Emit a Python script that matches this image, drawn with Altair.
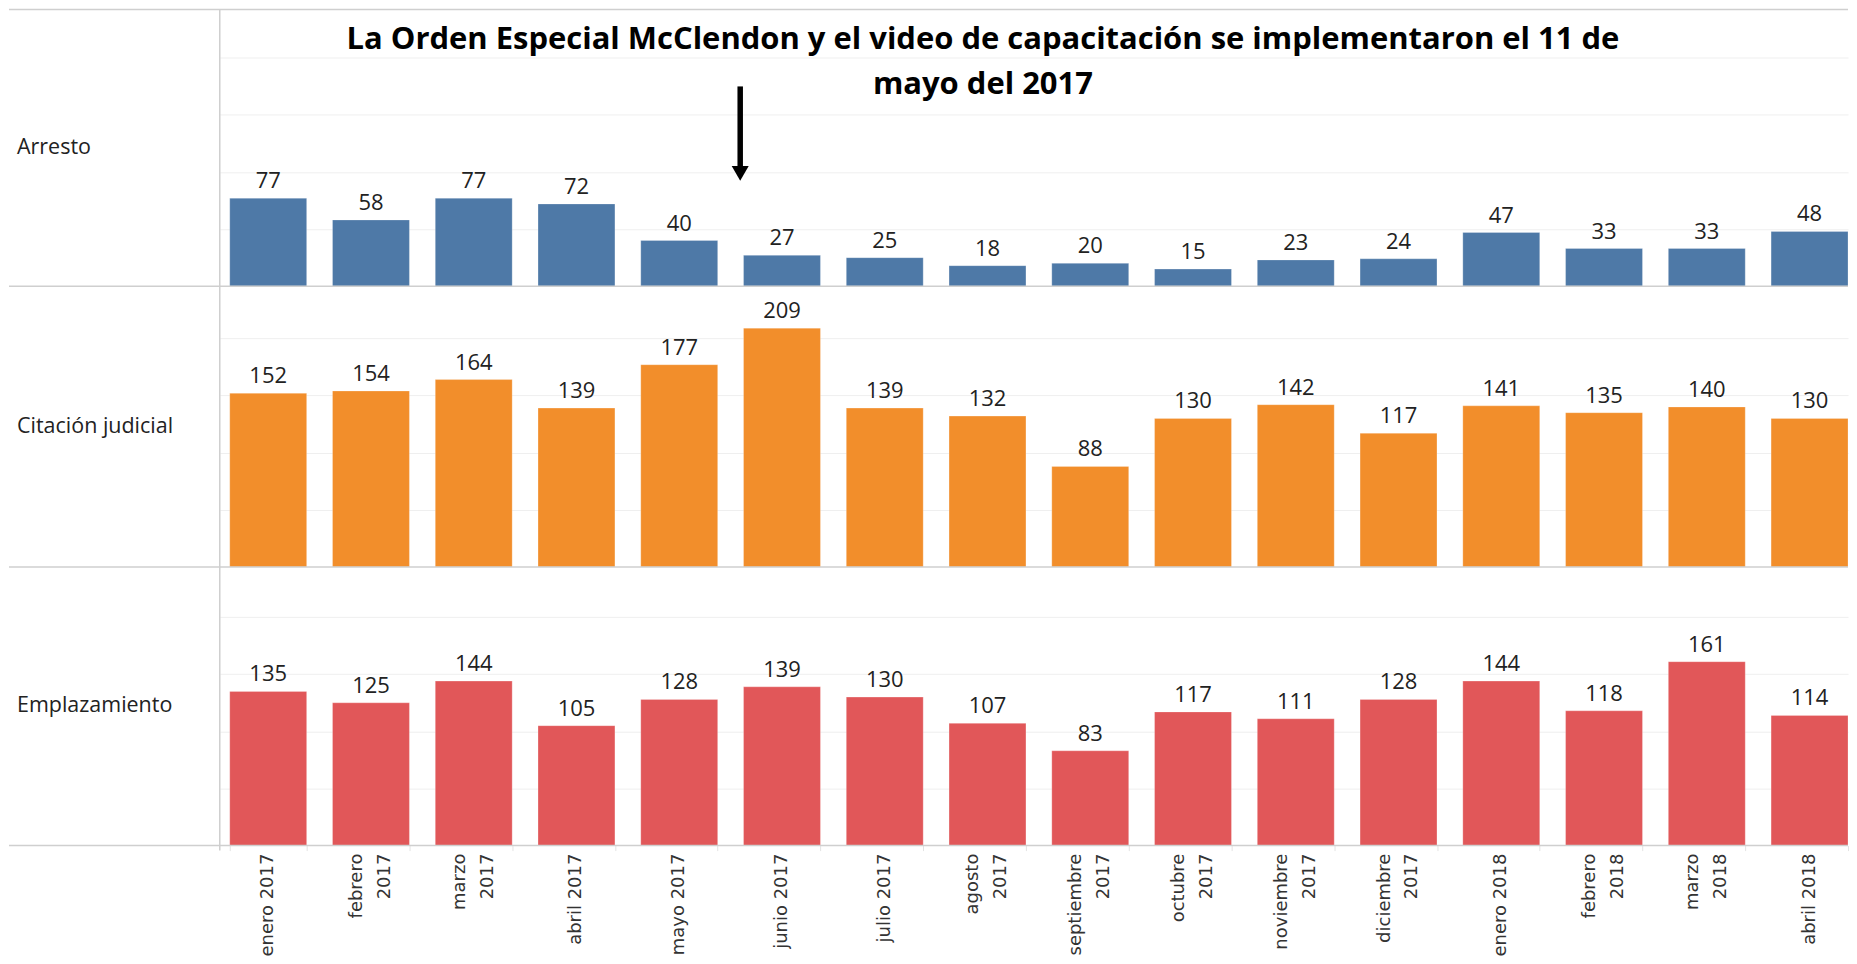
import altair as alt
import pandas as pd

TICK_LABELS = ["enero 2017", "febrero|2017", "marzo|2017", "abril 2017", "mayo 2017",
               "junio 2017", "julio 2017", "agosto|2017", "septiembre|2017", "octubre|2017",
               "noviembre|2017", "diciembre|2017", "enero 2018", "febrero|2018",
               "marzo|2018", "abril 2018"]
CATEGORIES = ["Arresto", "Citación judicial", "Emplazamiento"]
ARRESTO = [77, 58, 77, 72, 40, 27, 25, 18, 20, 15, 23, 24, 47, 33, 33, 48]
CITACION = [152, 154, 164, 139, 177, 209, 139, 132, 88, 130, 142, 117, 141, 135, 140, 130]
EMPLAZAMIENTO = [135, 125, 144, 105, 128, 139, 130, 107, 83, 117, 111, 128, 144, 118, 161, 114]
COLORS = ["#4e79a7", "#f28e2b", "#e15759"]
GRID_VALUES = [50, 100, 150, 200]
TITLE = "La Orden Especial McClendon y el video de capacitación se implementaron el 11 de\nmayo del 2017"

W = 1630
PX_PER_UNIT = 1.1436
HEIGHTS = [277, 281, 279]
LINE = "#cfcfcf"
XSCALE = alt.Scale(domain=TICK_LABELS, paddingInner=0.2515, paddingOuter=0.0486, align=1.0)


def make_row(name, values, color, height, first=False, last=False):
    df = pd.DataFrame({"mes": TICK_LABELS, "valor": values})
    if last:
        xaxis = alt.Axis(title=None, labels=False, ticks=True, tickSize=5, tickColor="#e3e3e3",
                         tickBand="extent", domain=False, grid=False)
    else:
        xaxis = None
    x = alt.X("mes:N", sort=TICK_LABELS, scale=XSCALE, axis=xaxis)
    y = alt.Y("valor:Q",
              scale=alt.Scale(domain=[0, height / PX_PER_UNIT], nice=False, zero=True),
              axis=alt.Axis(values=GRID_VALUES, grid=True, gridColor="#efefef", gridWidth=1,
                            labels=False, ticks=False, domain=False, title=None))
    base = alt.Chart(df).encode(x=x, y=y)
    bars = base.mark_bar(color=color, stroke="#ffffff", strokeOpacity=0.25, strokeWidth=1)
    text = base.mark_text(baseline="alphabetic", dy=-10, font="Open Sans", fontSize=22,
                          color="#222222").encode(text="valor:Q")

    one = pd.DataFrame({"t": [name]})
    label = alt.Chart(one).mark_text(align="left", baseline="middle", font="Open Sans",
                                     fontSize=21.5, color="#222222").encode(
        x=alt.value(-203), y=alt.value(height / 2), text="t:N")
    bottom = alt.Chart(one).mark_rule(color=LINE, strokeWidth=1.5).encode(
        x=alt.value(-211), x2=alt.value(W), y=alt.value(height))
    vert = alt.Chart(one).mark_rule(color=LINE, strokeWidth=1.5).encode(
        x=alt.value(0), y=alt.value(0), y2=alt.value(height + (5 if last else 0)))
    layers = [bars, text, label, bottom, vert]
    if last:
        tick_style = dict(angle=270, align="right", baseline="middle", font="DejaVu Sans",
                          fontSize=18, color="#333333", lineBreak="|", lineHeight=28)
        single = alt.Chart(df).transform_filter("indexof(datum.mes, '|') < 0").mark_text(
            **tick_style).encode(
            x=alt.X("mes:N", sort=TICK_LABELS, scale=XSCALE, axis=xaxis, bandPosition=0.5),
            y=alt.value(height + 8), text="mes:N")
        double = alt.Chart(df).transform_filter("indexof(datum.mes, '|') >= 0").mark_text(
            **tick_style).encode(
            x=alt.X("mes:N", sort=TICK_LABELS, scale=XSCALE, axis=xaxis, bandPosition=0.318),
            y=alt.value(height + 8), text="mes:N")
        layers += [single, double]
    if first:
        top = alt.Chart(one).mark_rule(color=LINE, strokeWidth=1.5).encode(
            x=alt.value(-211), x2=alt.value(W), y=alt.value(0))
        tdf = pd.DataFrame({"t": [TITLE]})
        title = alt.Chart(tdf).mark_text(align="center", baseline="top", font="Open Sans",
                                         fontWeight="bold", fontSize=31, color="#000000",
                                         lineBreak="\n", lineHeight=45).encode(
            x=alt.value(764), y=alt.value(16), text="t:N")
        shaft = alt.Chart(one).mark_rule(color="#000000", strokeWidth=5.5).encode(
            x=alt.value(521), y=alt.value(77), y2=alt.value(160))
        head = alt.Chart(one).mark_point(shape="triangle-down", filled=True, color="#000000",
                                         opacity=1, size=290).encode(
            x=alt.value(521), y=alt.value(164))
        layers += [top, title, shaft, head]
    return alt.layer(*layers).properties(width=W, height=height)


rows = [
    make_row(CATEGORIES[0], ARRESTO, COLORS[0], HEIGHTS[0], first=True),
    make_row(CATEGORIES[1], CITACION, COLORS[1], HEIGHTS[1]),
    make_row(CATEGORIES[2], EMPLAZAMIENTO, COLORS[2], HEIGHTS[2], last=True),
]

chart = alt.vconcat(*rows, spacing=0, bounds="flush").resolve_scale(
    x="independent", y="independent"
).properties(padding=0).configure_view(stroke=None)

chart.save("out.html", embed_options={"renderer": "svg", "actions": False})
